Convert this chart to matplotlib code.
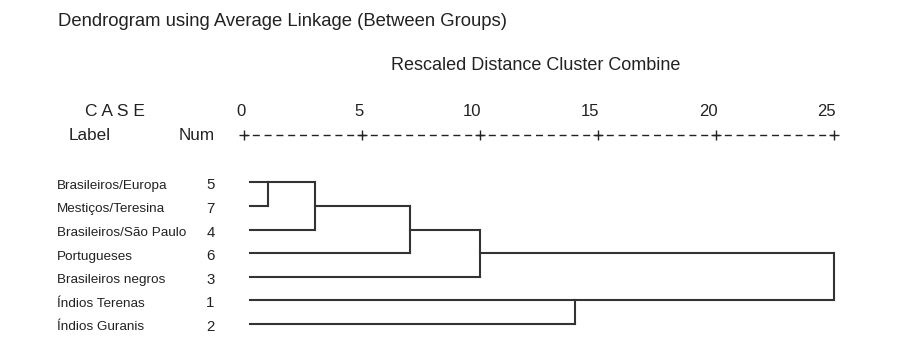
import math

import matplotlib
matplotlib.use('Agg')
import matplotlib.pyplot as plt
import matplotlib.transforms as mtransforms

plt.rcParams['font.family'] = ['Liberation Sans', 'DejaVu Sans']
plt.rcParams['lines.scale_dashes'] = False

# cases in the order they are listed in the dendrogram
case_labels = ['Brasileiros/Europa', 'Mestiços/Teresina', 'Brasileiros/São Paulo',
               'Portugueses', 'Brasileiros negros', 'Índios Terenas', 'Índios Guranis']
case_nums = [5, 7, 4, 6, 3, 1, 2]

# merges (by case number) and the rescaled distance where they combine
merge_a = [5, 5, 5, 5, 1, 5]
merge_b = [7, 4, 6, 3, 2, 1]
merge_dist = [1.0, 3.0, 7.0, 10.0, 14.0, 25.0]
leaf_start = 0.25

axis_ticks = [0, 5, 10, 15, 20, 25]

W, H = 902, 342
TEXT = '#222222'
LINE = '#333333'

fig = plt.figure(figsize=(W / 100, H / 100), dpi=100)


def fx(x):
    return x / W


def fy(y):
    # y measured from the top of the picture, in pixels
    return 1 - y / H


# axes: x is the rescaled distance, y is the row of each case
ax = fig.add_axes([fx(244.3), fy(335.8), fx(834.3) - fx(244.3), fy(170.5) - fy(335.8)])
ax.set_xlim(0, 25)
ax.set_ylim(len(case_nums) - 0.5, -0.5)
ax.axis('off')

# walk through the merges, SPSS style: each cluster keeps a row and a start
clusters = {n: [i, leaf_start] for i, n in enumerate(case_nums)}
for a, b, d in zip(merge_a, merge_b, merge_dist):
    ra, sa = clusters[a]
    rb, sb = clusters[b]
    ax.plot([sa, d], [ra, ra], color=LINE, lw=1.5, solid_capstyle='projecting', clip_on=False)
    ax.plot([sb, d], [rb, rb], color=LINE, lw=1.5, solid_capstyle='projecting', clip_on=False)
    ax.plot([d, d], [ra, rb], color=LINE, lw=1.5, solid_capstyle='projecting', clip_on=False)
    del clusters[b]
    clusters[a] = [math.floor((ra + rb) / 2), d]

# case labels and numbers
rowtrans = mtransforms.blended_transform_factory(fig.transFigure, ax.transData)
for i, (lab, n) in enumerate(zip(case_labels, case_nums)):
    ax.text(fx(57.3), i + 0.27, lab, transform=rowtrans,
            ha='left', va='baseline', fontsize=9.7, color=TEXT)
    ax.text(fx(210.5), i + 0.30, str(n), transform=rowtrans,
            ha='center', va='baseline', fontsize=10.8, color=TEXT)

# headers
fig.text(fx(58.3), fy(26), 'Dendrogram using Average Linkage (Between Groups)',
         ha='left', va='baseline', fontsize=13.3, color=TEXT)
fig.text(fx(390.7), fy(70), 'Rescaled Distance Cluster Combine',
         ha='left', va='baseline', fontsize=13, color=TEXT)
fig.text(fx(85), fy(116), 'C A S E', ha='left', va='baseline', fontsize=12.5, color=TEXT)
fig.text(fx(68.3), fy(140), 'Label', ha='left', va='baseline', fontsize=12.3, color=TEXT)
fig.text(fx(178.3), fy(140), 'Num', ha='left', va='baseline', fontsize=12.3, color=TEXT)

# the "+---------+" distance scale
blend = mtransforms.blended_transform_factory(ax.transData, fig.transFigure)
for t in axis_ticks:
    ax.text(t + 0.05, fy(116), str(t), transform=blend, ha='right', va='baseline',
            fontsize=12, color=TEXT)
ax.plot([axis_ticks[0], axis_ticks[-1]], [fy(135.3)] * 2, transform=blend, clip_on=False,
        color=TEXT, lw=1.0, linestyle=(2.52, (5.04, 3.456)))
ax.plot(axis_ticks, [fy(135.3)] * len(axis_ticks), transform=blend, clip_on=False,
        linestyle='none', marker='+', markersize=7.2, markeredgewidth=1.0, color=TEXT)

plt.savefig('out.png', dpi=100)
